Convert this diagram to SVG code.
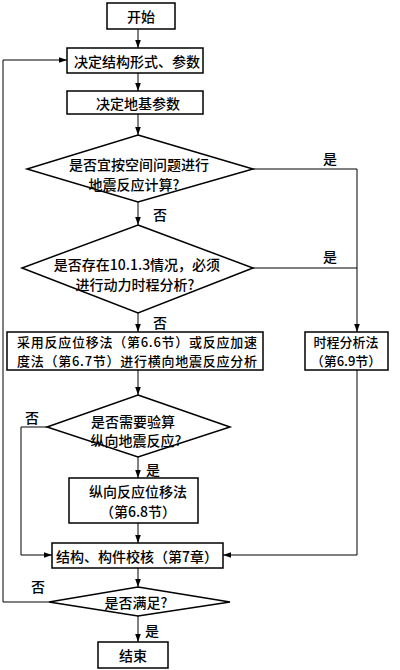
<svg xmlns="http://www.w3.org/2000/svg" width="400" height="670" viewBox="0 0 400 670">
<style>
.box{fill:#fff;stroke:#000;stroke-width:1.5}
.dia{fill:#fff;stroke:#000;stroke-width:1.5}
.ln{fill:none;stroke:#000;stroke-width:1}
.t{font-family:"Noto Sans CJK SC","Noto Sans",sans-serif;font-size:14px;font-weight:500;fill:#000;text-anchor:middle;dominant-baseline:central}
.s{font-size:13px}
.l{font-family:"Noto Sans CJK SC","Noto Sans",sans-serif;font-size:14px;font-weight:500;fill:#000;text-anchor:middle;dominant-baseline:central}
</style>
<defs>
<marker id="arr" viewBox="0 0 10 10" refX="10" refY="5" markerWidth="8" markerHeight="8" markerUnits="userSpaceOnUse" orient="auto">
<path d="M0,1.5 L10,5 L0,8.5 Z" fill="#000"/>
</marker>
</defs>
<rect width="400" height="670" fill="#fff"/>
<g id="connectors">
<line class="ln" x1="138" y1="29" x2="138" y2="48" marker-end="url(#arr)"/>
<line class="ln" x1="138" y1="73" x2="138" y2="91" marker-end="url(#arr)"/>
<line class="ln" x1="138" y1="114" x2="138" y2="135" marker-end="url(#arr)"/>
<polyline class="ln" points="253,169 357,169 357,332" marker-end="url(#arr)"/>
<line class="ln" x1="138" y1="202" x2="138" y2="225" marker-end="url(#arr)"/>
<line class="ln" x1="253" y1="268" x2="357" y2="268"/>
<line class="ln" x1="138" y1="313" x2="138" y2="332" marker-end="url(#arr)"/>
<line class="ln" x1="138" y1="370" x2="138" y2="395" marker-end="url(#arr)"/>
<polyline class="ln" points="357,370 357,555 223,555" marker-end="url(#arr)"/>
<polyline class="ln" points="47,427 21,427 21,555 52,555" marker-end="url(#arr)"/>
<line class="ln" x1="138" y1="457" x2="138" y2="478" marker-end="url(#arr)"/>
<line class="ln" x1="138" y1="523" x2="138" y2="543" marker-end="url(#arr)"/>
<line class="ln" x1="138" y1="568" x2="138" y2="587" marker-end="url(#arr)"/>
<polyline class="ln" points="49,602 3,602 3,60 67,60" marker-end="url(#arr)"/>
<line class="ln" x1="138" y1="616" x2="138" y2="642" marker-end="url(#arr)"/>
<text class="l" x="330" y="158">是</text>
<text class="l" x="160" y="214">否</text>
<text class="l" x="330" y="256">是</text>
<text class="l" x="160" y="322">否</text>
<text class="l" x="32" y="417">否</text>
<text class="l" x="153" y="469">是</text>
<text class="l" x="38" y="586">否</text>
<text class="l" x="152" y="630">是</text>
</g>
<g id="start">
<rect class="box" x="107" y="3" width="68" height="26"/>
<text class="t" x="141" y="16">开始</text>
</g>
<g id="structure">
<rect class="box" x="67" y="48" width="136" height="25"/>
<text class="t" x="137" y="61">决定结构形式、参数</text>
</g>
<g id="foundation">
<rect class="box" x="67" y="91" width="136" height="23"/>
<text class="t" x="138" y="103">决定地基参数</text>
</g>
<g id="decision1">
<polygon class="dia" points="138,135 253,169 138,202 27,169"/>
<text class="t" x="139" y="164">是否宜按空间问题进行</text>
<text class="t" x="134" y="184">地震反应计算?</text>
</g>
<g id="decision2">
<polygon class="dia" points="138,225 253,268 138,313 22,268"/>
<text class="t" x="137" y="264">是否存在10.1.3情况，必须</text>
<text class="t" x="135" y="284">进行动力时程分析?</text>
</g>
<g id="transverse">
<rect class="box" x="7" y="332" width="256" height="38"/>
<text class="t s" x="137" y="341" textLength="240" lengthAdjust="spacing">采用反应位移法（第6.6节）或反应加速</text>
<text class="t s" x="137" y="360" textLength="240" lengthAdjust="spacing">度法（第6.7节）进行横向地震反应分析</text>
</g>
<g id="timehistory">
<rect class="box" x="305" y="332" width="83" height="38"/>
<text class="t s" x="346" y="341">时程分析法</text>
<text class="t s" x="346" y="360">（第6.9节）</text>
</g>
<g id="decision3">
<polygon class="dia" points="138,395 230,427 138,457 47,427"/>
<text class="t" x="133" y="421">是否需要验算</text>
<text class="t" x="136" y="440">纵向地震反应?</text>
</g>
<g id="longitudinal">
<rect class="box" x="69" y="478" width="129" height="45"/>
<text class="t" x="138" y="491">纵向反应位移法</text>
<text class="t" x="138" y="511">（第6.8节）</text>
</g>
<g id="check">
<rect class="box" x="52" y="543" width="171" height="25"/>
<text class="t" x="137" y="556">结构、构件校核（第7章）</text>
</g>
<g id="decision4">
<polygon class="dia" points="138,587 230,602 138,616 49,602"/>
<text class="t" x="136" y="602">是否满足?</text>
</g>
<g id="end">
<rect class="box" x="98" y="642" width="70" height="26"/>
<text class="t" x="133" y="655">结束</text>
</g>
</svg>
